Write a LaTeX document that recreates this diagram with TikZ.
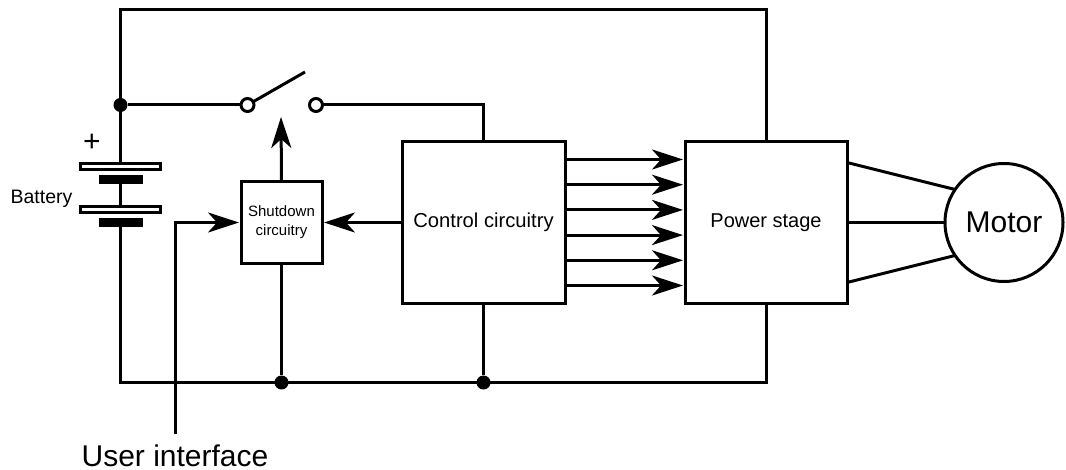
\documentclass[tikz,border=0pt]{standalone}
\usepackage{fontspec}
\setmainfont{Liberation Sans}
\usetikzlibrary{arrows.meta,positioning}
\tikzset{
    %Define standard arrow tip
    >={Stealth[length=31pt,width=20pt,inset=9pt]},
    %Define style for boxes
    blockbox/.style={
           rectangle,
           draw=black, line width=3pt,
           outer sep=0pt,
           inner sep=0pt,
           align=center},
    platebox/.style={
           rectangle,
           draw=black, line width=3pt,
           fill=white,
           outer sep=0pt,
           minimum width=80pt,
           minimum height=6pt,
           inner sep=0pt},
    cellbox/.style={
           rectangle,
           fill=black,
           outer sep=0pt,
           minimum width=44pt,
           minimum height=9.5pt,
           inner sep=0pt},
    contact/.style={
           circle,
           draw=black, line width=3pt,
           fill=white,
           outer sep=0pt,
           minimum size=13pt,
           inner sep=0pt},
    junction/.style={
           circle,
           fill=black,
           outer sep=0pt,
           minimum size=14pt,
           inner sep=0pt},
    % Define wire styles
    wire/.style={
           line width=3pt},
    pil/.style={
           ->,
           line width=3pt,
           shorten >=2pt,}
}

\begin{document}
\begin{tikzpicture}[x=1pt,y=-1pt,node distance=50pt]
 \useasboundingbox (0,0) rectangle (1066,470);

 \node[blockbox, minimum width=163pt, minimum height=162pt, font=\fontsize{20.2}{24}\selectfont] (control) at (483.5,222.5) {\raisebox{-5pt}{Control circuitry}};
 \node[blockbox, minimum width=162pt, minimum height=162pt, font=\fontsize{20}{24}\selectfont, right=120pt of control] (power) {\raisebox{-6pt}{Power stage}};
 \node[blockbox, minimum width=81pt, minimum height=82pt, font=\fontsize{15}{19}\selectfont, left=80pt of control] (shutdown) {\raisebox{-2pt}{Shutdown}\\\raisebox{-2pt}{circuitry}};
 \node[blockbox, circle, minimum size=118pt, font=\fontsize{30}{34}\selectfont, right=98pt of power] (motor) {\raisebox{-1.5pt}{Motor}};

 % Battery
 \node[platebox] (plateA) at (120.5,166.5) {};
 \node[cellbox, below=5.5pt of plateA] (cellA) {};
 \node[platebox, below=22pt of cellA] (plateB) {};
 \node[cellbox, below=5.5pt of plateB] (cellB) {};
 \node[font=\fontsize{30}{34}\selectfont] (plus) at (92,143) {+};
 \node[font=\fontsize{19.5}{23}\selectfont] (battery) at (41.5,199) {Battery};

 % Switch
 \node[junction] (dotbat) at (120.5,105) {};
 \node[contact] (swleft) at (247.5,105) {};
 \node[contact] (swright) at (316,105) {};
 \coordinate (bladeend) at (305,72);
 \coordinate (swtip) at (281,115);

 \node[junction] (dotshut) at (shutdown.south |- 0,382.5) {};
 \node[junction] (dotctrl) at (control.south |- 0,382.5) {};
 \coordinate (toprail) at (power.north |- 0,10);

 \node[font=\fontsize{30}{34}\selectfont, inner sep=0pt] (userlabel) at (175,455.5) {User interface};
 \coordinate (userend) at (175.5,434);

 % Rails
 \draw[wire] (cellB.south) |- (dotshut.center) -- (dotctrl.center) -| (power.south);
 \draw[wire] (plateA.north) -- (dotbat.center) |- (toprail) -- (power.north);
 \draw[wire] (cellA.south) -- (plateB.north);
 \draw[wire] (dotbat) -- (swleft);
 \draw[wire] (swleft) -- (bladeend);
 \draw[wire] (swright) -| (control.north);
 \draw[wire] (shutdown.south) -- (dotshut);
 \draw[wire] (control.south) -- (dotctrl);

 % Signals
 \draw[pil] (shutdown.north) -- (swtip);
 \draw[pil] (control.west) -- (shutdown.east);
 \draw[pil] (userend) |- (shutdown.west);
 \foreach \off in {63,37.8,12.6,-12.6,-37.8,-63}
   \draw[pil] ([yshift=\off pt]control.east) -- ([yshift=\off pt]power.west);

 % Motor leads
 \draw[wire] ([yshift=60pt]power.east) -- (motor.146);
 \draw[wire] (power.east) -- (motor.west);
 \draw[wire] ([yshift=-60pt]power.east) -- (motor.214);

\end{tikzpicture}
\end{document}
